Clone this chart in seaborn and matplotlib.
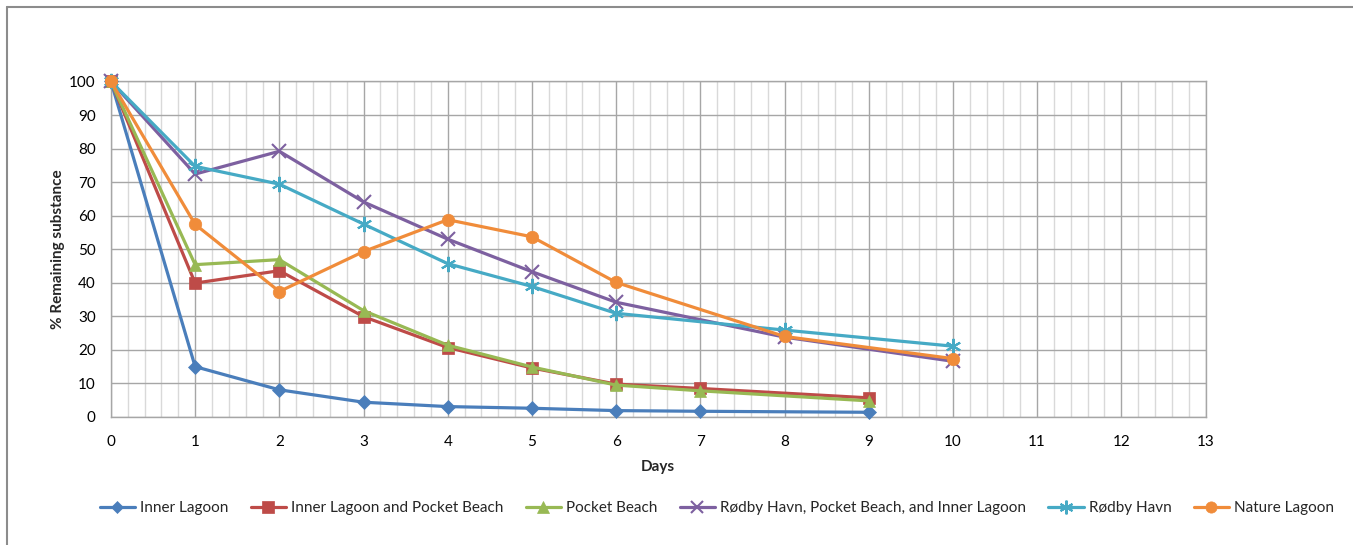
import seaborn as sns
import matplotlib.pyplot as plt
import pandas as pd
import numpy as np
from matplotlib.lines import Line2D
from matplotlib.ticker import MultipleLocator

# Данные
days_a = [0, 1, 2, 3, 4, 5, 6, 7, 9]
days_b = [0, 1, 2, 3, 4, 5, 6, 8, 10]

inner_lagoon = [100, 15.0, 8.1, 4.4, 3.1, 2.6, 1.9, 1.7, 1.4]
inner_pocket = [100, 39.9, 43.6, 29.9, 20.7, 14.6, 9.8, 8.5, 5.7]
pocket_beach = [100, 45.4, 46.9, 31.7, 21.4, 14.9, 9.5, 7.8, 4.8]
rodby_all = [100, 72.4, 79.2, 64.1, 53.0, 43.3, 34.2, 23.8, 16.6]
rodby_havn = [100, 74.7, 69.4, 57.5, 45.7, 38.9, 30.9, 25.9, 21.1]
nature_lagoon = [100, 57.4, 37.4, 49.3, 58.8, 53.7, 40.1, 24.0, 17.4]

series_names = ["Inner Lagoon", "Inner Lagoon and Pocket Beach", "Pocket Beach",
                "Rødby Havn, Pocket Beach, and Inner Lagoon", "Rødby Havn", "Nature Lagoon"]
series_days = [days_a, days_a, days_a, days_b, days_b, days_b]
series_vals = [inner_lagoon, inner_pocket, pocket_beach, rodby_all, rodby_havn, nature_lagoon]

colors = ["#4A7EBB", "#BE4B48", "#98B954", "#7D60A0", "#46AAC5", "#F08C3A"]
markers = ["D", "s", "^", "x", (6, 2, 0), "o"]
msizes = [7, 9, 9, 10, 11, 9]

frames = []
for name, d, v in zip(series_names, series_days, series_vals):
  frames.append(pd.DataFrame({"Days": d, "value": v, "series": name}))
df = pd.concat(frames, ignore_index=True)

sns.set_theme(style="white")
plt.rcParams['font.family'] = ['Lato', 'DejaVu Sans']

fig = plt.figure(figsize=(13.53, 5.45), dpi=100)
ax = fig.add_axes([0.082, 0.2349, 0.809, 0.6156])

# Сетка
ax.set_xlim(0, 13)
ax.set_ylim(0, 100)
ax.xaxis.set_major_locator(MultipleLocator(1))
ax.xaxis.set_minor_locator(MultipleLocator(0.2))
ax.yaxis.set_major_locator(MultipleLocator(10))
ax.grid(True, which='minor', axis='x', color='#D9D9D9', lw=1.0)
ax.grid(True, which='major', axis='x', color='#A6A6A6', lw=1.0)
ax.grid(True, which='major', axis='y', color='#A6A6A6', lw=1.0)
ax.set_axisbelow(True)
for s in ax.spines.values():
  s.set_color('#A6A6A6')
  s.set_linewidth(1.0)

for i, name in enumerate(series_names):
  sub = df[df["series"] == name]
  mec = colors[i]
  sns.lineplot(data=sub, x="Days", y="value", ax=ax, color=colors[i], lw=2.3,
               marker=markers[i], markersize=msizes[i], markeredgecolor=mec,
               markeredgewidth=1.5 if markers[i] in ["x", (6, 2, 0)] else 0.5,
               label=name, clip_on=False, zorder=3 + i)

ax.tick_params(axis='both', which='both', length=0, labelsize=11, colors='black')
ax.tick_params(axis='x', pad=13)
ax.tick_params(axis='y', pad=11)
ax.set_xlabel("Days", fontsize=11, fontweight='bold', labelpad=8)
ax.set_ylabel("% Remaining substance", fontsize=11, fontweight='bold', labelpad=3)

ax.legend_.remove()
handles = [Line2D([0], [0], color=colors[i], lw=2.3, marker=markers[i],
                  markersize=msizes[i] * 0.9, markeredgecolor=colors[i],
                  markeredgewidth=1.5 if markers[i] in ["x", (6, 2, 0)] else 0.5)
           for i in range(len(series_names))]
fig.legend(handles, series_names, loc='center', bbox_to_anchor=(0.53, 0.068), ncol=6,
           frameon=False, fontsize=11, handlelength=2.3, handletextpad=0.35, columnspacing=1.45)

# Рамка области диаграммы
fig.add_artist(Line2D([0.0055, 0.0055], [0.0, 0.988], color='#8C8C8C', lw=1.5))
fig.add_artist(Line2D([0.0055, 1.0], [0.988, 0.988], color='#8C8C8C', lw=1.5))

fig.savefig("out.png", dpi=100)
